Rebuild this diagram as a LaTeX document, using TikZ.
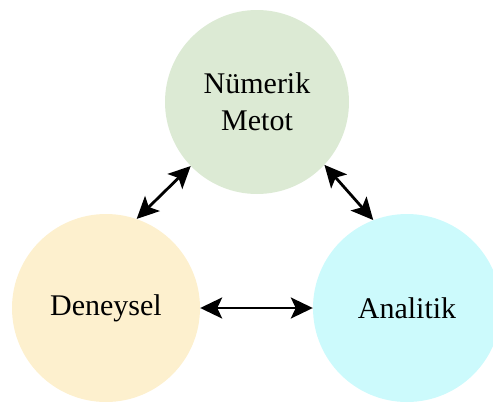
\documentclass[tikz,border=0pt]{standalone}
\usepackage{fontspec}
\setmainfont{Liberation Serif}
\usetikzlibrary{arrows.meta}
\definecolor{cgreen}{RGB}{220,234,212}
\definecolor{cyellow}{RGB}{253,240,206}
\definecolor{ccyan}{RGB}{204,250,252}
\begin{document}
\begin{tikzpicture}[x=1pt,y=1pt,
  blob/.style={circle,inner sep=0pt,minimum size=#1,align=center,
    font=\fontsize{30}{37}\selectfont},
  link/.style={line width=2.8pt,{Stealth[length=22pt,width=21pt,inset=5pt]}-{Stealth[length=22pt,width=21pt,inset=5pt]}}]
\useasboundingbox (0,0) rectangle (493,-410);
\node[blob=184pt,fill=cgreen] (num) at (257,-102) {Nümerik\\Metot};
\node[blob=188pt,fill=cyellow] (den) at (106,-308) {Deneysel};
\node[blob=188pt,fill=ccyan] (ana) at (407,-308) {Analitik};
\draw[link] (num.224) -- (den.71);
\draw[link] (num.317) -- (ana.111);
\draw[link] (den.east) -- (ana.west);
\end{tikzpicture}
\end{document}
